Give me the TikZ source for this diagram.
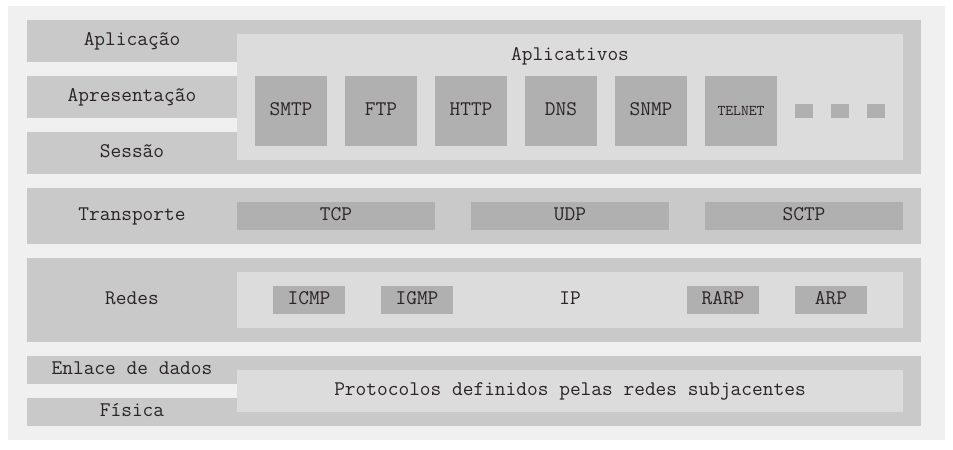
\documentclass[tikz,border=0pt]{standalone}
\usepackage{fontspec}
\usetikzlibrary{positioning}

\definecolor{bgGray}{HTML}{F0F0F0}
\definecolor{layerGray}{HTML}{C9C9C9}
\definecolor{innerGray}{HTML}{DCDCDC}
\definecolor{protoGray}{HTML}{B0B0B0}
\definecolor{txtGray}{HTML}{2A2424}

\begin{document}
\begin{tikzpicture}[
	every node/.style={inner sep=0pt, outer sep=0pt, text=txtGray, text height=1.45ex, text depth=0pt, font=\ttfamily\fontsize{14.8}{16}\selectfont},
	layer/.style={rectangle, fill=layerGray},
	inner/.style={rectangle, fill=innerGray},
	proto/.style={rectangle, fill=protoGray}
]

\useasboundingbox (0, 0) rectangle (23.825, -11.225);
\fill[bgGray] (0.2, -0.15) rectangle (23.625, -11);

% Aplicacao / Apresentacao / Sessao
\node (app) at (14.475, -2.425) [layer, minimum width=17.1cm, minimum height=3.85cm] {};
\node (lb-apl) at (3.3, -1.025) [layer, minimum width=5.25cm, minimum height=1.05cm] {Aplicação};
\node (lb-apr) at (3.3, -2.425) [layer, minimum width=5.25cm, minimum height=1.05cm] {Apresentação};
\node (lb-ses) at (3.3, -3.825) [layer, minimum width=5.25cm, minimum height=1.05cm] {Sessão};
\node (app-in) at (14.25, -2.425) [inner, minimum width=16.65cm, minimum height=3.15cm] {};
\node (app-tt) at (14.25, -1.4) {Aplicativos};

\foreach \name [count=\i from 0] in {SMTP, FTP, HTTP, DNS, SNMP}
	\node (app-\i) at (7.275+2.25*\i, -2.775) [proto, minimum width=1.8cm, minimum height=1.75cm] {\name};
\node (app-5) at (18.525, -2.775) [proto, minimum width=1.8cm, minimum height=1.75cm, font=\ttfamily\fontsize{10.6}{12}\selectfont] {TELNET};
\foreach \i in {0,1,2}
	\node (dot-\i) at (20.1+0.9*\i, -2.775) [proto, minimum width=0.45cm, minimum height=0.35cm] {};

% Transporte
\node (tr) at (11.85, -5.4) [layer, minimum width=22.35cm, minimum height=1.4cm] {};
\node (lb-tr) at (3.3, -5.4) {Transporte};
\node (tr-tcp) at (8.4, -5.4) [proto, minimum width=4.95cm, minimum height=0.7cm] {TCP};
\node (tr-udp) at (14.25, -5.4) [proto, minimum width=4.95cm, minimum height=0.7cm] {UDP};
\node (tr-sctp) at (20.1, -5.4) [proto, minimum width=4.95cm, minimum height=0.7cm] {SCTP};

% Redes
\node (net) at (11.85, -7.5) [layer, minimum width=22.35cm, minimum height=2.1cm] {};
\node (lb-net) at (3.3, -7.5) {Redes};
\node (net-in) at (14.25, -7.5) [inner, minimum width=16.65cm, minimum height=1.4cm] {};
\node (net-icmp) at (7.725, -7.5) [proto, minimum width=1.8cm, minimum height=0.7cm] {ICMP};
\node (net-igmp) at (10.425, -7.5) [proto, minimum width=1.8cm, minimum height=0.7cm] {IGMP};
\node (net-ip) at (14.25, -7.5) {IP};
\node (net-rarp) at (18.075, -7.5) [proto, minimum width=1.8cm, minimum height=0.7cm] {RARP};
\node (net-arp) at (20.775, -7.5) [proto, minimum width=1.8cm, minimum height=0.7cm] {ARP};

% Enlace de dados / Fisica
\node (phy) at (14.475, -9.775) [layer, minimum width=17.1cm, minimum height=1.75cm] {};
\node (lb-enl) at (3.3, -9.25) [layer, minimum width=5.25cm, minimum height=0.7cm] {Enlace de dados};
\node (lb-fis) at (3.3, -10.3) [layer, minimum width=5.25cm, minimum height=0.7cm] {Física};
\node (phy-in) at (14.25, -9.775) [inner, minimum width=16.65cm, minimum height=1.05cm] {Protocolos definidos pelas redes subjacentes};

\end{tikzpicture}
\end{document}
